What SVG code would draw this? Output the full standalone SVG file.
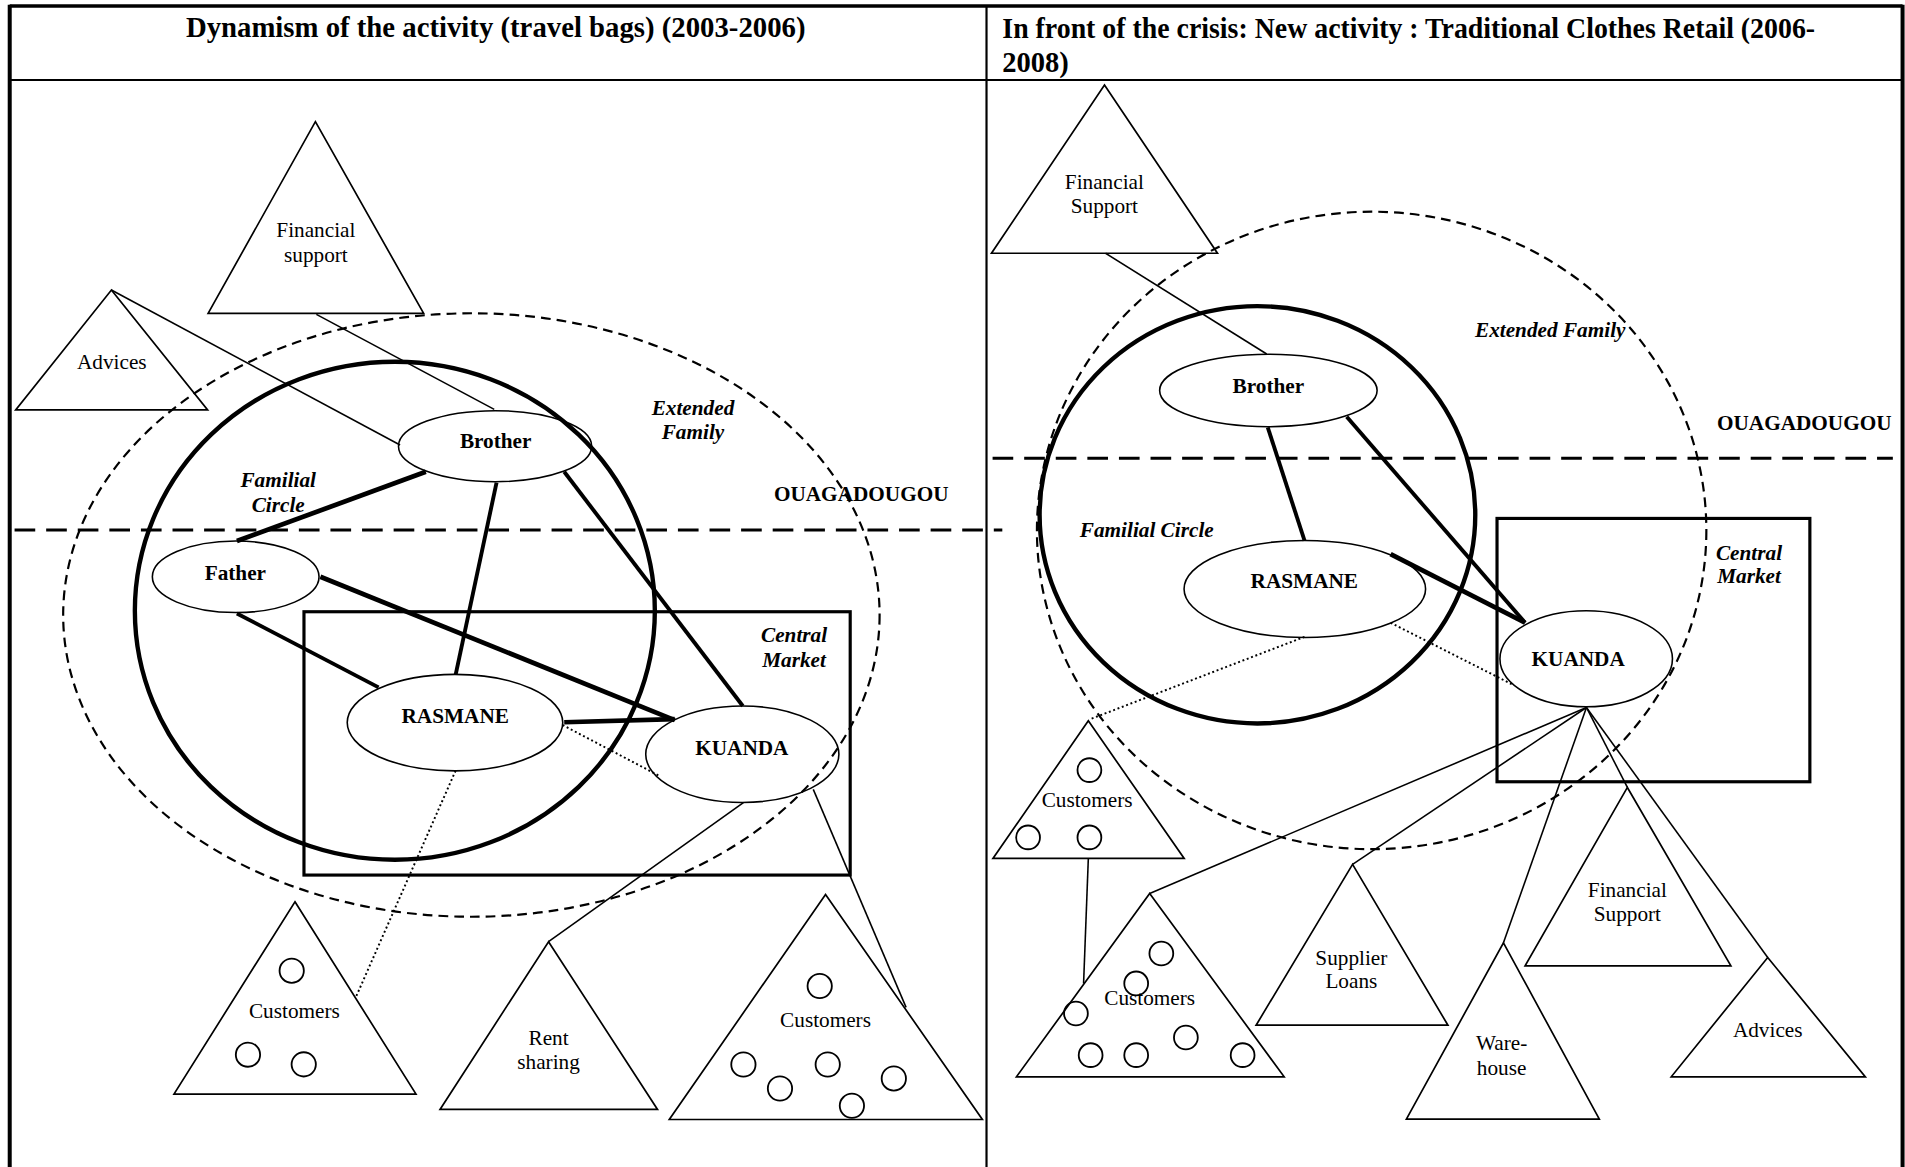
<svg xmlns="http://www.w3.org/2000/svg" width="1905" height="1167" viewBox="0 0 1905 1167">
<style>
.t{font-family:"Liberation Serif","Times New Roman",serif;font-size:17.5px;fill:#000;text-anchor:middle}
.s{text-anchor:start}
.h{font-size:23.5px;font-weight:bold}
.b{font-weight:bold}
.bi{font-weight:bold;font-style:italic}
.thin{fill:none;stroke:#000;stroke-width:1.3}
.tri{fill:none;stroke:#000;stroke-width:1.4;stroke-linejoin:miter}
.node{fill:none;stroke:#000;stroke-width:1.3}
.circ{fill:none;stroke:#000;stroke-width:1.5}
.fam{fill:none;stroke:#000;stroke-width:3.6}
.ext{fill:none;stroke:#000;stroke-width:1.8;stroke-dasharray:8 5}
.city{fill:none;stroke:#000;stroke-width:2.5;stroke-dasharray:17 9}
.dot{fill:none;stroke:#000;stroke-width:1.6;stroke-dasharray:1.6 2.2}
.k3{stroke:#000;stroke-width:3.2;fill:none}
.k4{stroke:#000;stroke-width:3.9;fill:none}
.mk{fill:none;stroke:#000;stroke-width:2.6}
.frame{stroke:#000;fill:none}
</style>
<rect width="1905" height="1167" fill="#fff"/>
<g transform="scale(1.21492 1.21184)">
  <g id="frame">
    <line class="frame" x1="8" y1="5" x2="1566" y2="5" stroke-width="2.8"/>
    <line class="frame" x1="8" y1="4" x2="8" y2="970" stroke-width="3.3"/>
    <line class="frame" x1="1566" y1="4" x2="1566" y2="970" stroke-width="3.3"/>
    <line class="frame" x1="812" y1="5" x2="812" y2="970" stroke-width="1.8"/>
    <line class="frame" x1="8" y1="66" x2="1566" y2="66" stroke-width="1.8"/>
    <text class="t h" x="408" y="30.8" textLength="510" lengthAdjust="spacingAndGlyphs">Dynamism of the activity (travel bags) (2003-2006)</text>
    <text class="t h s" x="825" y="31" textLength="669" lengthAdjust="spacingAndGlyphs">In front of the crisis: New activity : Traditional Clothes Retail (2006-</text>
    <text class="t h s" x="825" y="59.1">2008)</text>
  </g>

  <!-- LEFT PANEL -->
  <g id="left-zones">
    <ellipse class="ext" cx="388" cy="507.5" rx="336" ry="249"/>
    <ellipse class="fam" cx="325" cy="504" rx="214" ry="205.5"/>
    <rect class="mk" x="250.2" y="504.8" width="449.6" height="217.3"/>
    <line class="city" x1="12" y1="437.4" x2="825" y2="437.4"/>
    <text class="t bi" x="570.4" y="342.5">Extended</text>
    <text class="t bi" x="570.4" y="362.6">Family</text>
    <text class="t bi" x="229" y="402.2">Familial</text>
    <text class="t bi" x="229" y="422.3">Circle</text>
    <text class="t bi" x="653.6" y="529.5">Central</text>
    <text class="t bi" x="653.6" y="550.2">Market</text>
    <text class="t b s" x="637" y="413.2">OUAGADOUGOU</text>
  </g>

  <g id="left-connectors">
    <line class="thin" x1="91.7" y1="239.3" x2="329.3" y2="367.2"/>
    <line class="thin" x1="260.4" y1="259.4" x2="406.8" y2="337.8"/>
    <line class="k4" x1="350.5" y1="389.3" x2="195" y2="446.5"/>
    <line class="k3" x1="408.7" y1="398.3" x2="375.1" y2="556.5"/>
    <line class="k3" x1="464.4" y1="389.3" x2="611.4" y2="582.6"/>
    <line class="k4" x1="263.7" y1="475.9" x2="555.3" y2="594.2"/>
    <line class="k3" x1="195" y1="506.2" x2="311.6" y2="567.2"/>
    <line class="k4" x1="464.4" y1="596" x2="555.3" y2="593.4"/>
    <line class="dot" x1="463.1" y1="598.3" x2="543" y2="640.4"/>
    <line class="dot" x1="375" y1="636" x2="292.8" y2="823.1"/>
    <line class="thin" x1="611.9" y1="662.4" x2="451.5" y2="777.1"/>
    <line class="thin" x1="669.4" y1="651.4" x2="745.8" y2="831.3"/>
  </g>

  <g id="L-financial-support">
    <polygon class="tri" points="259.6,100.4 348.7,258.6 171.3,258.6"/>
    <text class="t" x="260" y="195.8">Financial</text>
    <text class="t" x="260" y="216">support</text>
  </g>
  <g id="L-advices">
    <polygon class="tri" points="91.7,239.3 170.9,338.3 12.9,338.3"/>
    <text class="t" x="92" y="304.8">Advices</text>
  </g>
  <g id="L-brother">
    <ellipse class="node" cx="407.5" cy="368.2" rx="79.5" ry="29.3"/>
    <text class="t b" x="408" y="370">Brother</text>
  </g>
  <g id="L-father">
    <ellipse class="node" cx="194" cy="476" rx="68.6" ry="29.5"/>
    <text class="t b" x="193.7" y="478.7">Father</text>
  </g>
  <g id="L-rasmane">
    <ellipse class="node" cx="374.5" cy="596.3" rx="88.7" ry="39.8"/>
    <text class="t b" x="374.7" y="596.4">RASMANE</text>
  </g>
  <g id="L-kuanda">
    <ellipse class="node" cx="611" cy="622.4" rx="79.5" ry="39.8"/>
    <text class="t b" x="610.6" y="623.1">KUANDA</text>
  </g>
  <g id="L-customers-1">
    <polygon class="tri" points="242.8,744.1 342.4,902.8 143.2,902.8"/>
    <circle class="circ" cx="240.1" cy="801" r="10"/>
    <circle class="circ" cx="204.1" cy="870.3" r="10"/>
    <circle class="circ" cx="250" cy="878.3" r="10"/>
    <text class="t" x="242.3" y="840.3">Customers</text>
  </g>
  <g id="L-rent-sharing">
    <polygon class="tri" points="451.5,777.1 541.2,915.5 362.2,915.5"/>
    <text class="t" x="451.5" y="862.4">Rent</text>
    <text class="t" x="451.5" y="882.5">sharing</text>
  </g>
  <g id="L-customers-2">
    <polygon class="tri" points="679.5,738.1 808.6,923.8 550.9,923.8"/>
    <circle class="circ" cx="674.7" cy="813.7" r="10"/>
    <circle class="circ" cx="611.9" cy="878.4" r="10"/>
    <circle class="circ" cx="642" cy="898.2" r="10"/>
    <circle class="circ" cx="681.3" cy="878.4" r="10"/>
    <circle class="circ" cx="735.7" cy="889.9" r="10"/>
    <circle class="circ" cx="701.2" cy="912.5" r="10"/>
    <text class="t" x="679.5" y="847.3">Customers</text>
  </g>

  <!-- RIGHT PANEL -->
  <g id="right-zones">
    <ellipse class="ext" cx="1129" cy="437.7" rx="275.5" ry="263"/>
    <ellipse class="fam" cx="1035" cy="424.8" rx="179.3" ry="172.2"/>
    <rect class="mk" x="1232.2" y="427.8" width="257.5" height="217.3"/>
    <line class="city" x1="817" y1="378.2" x2="1558" y2="378.2"/>
    <text class="t bi" x="1276" y="278.5">Extended Family</text>
    <text class="t bi" x="943.9" y="442.9">Familial Circle</text>
    <text class="t bi" x="1439.6" y="462.2">Central</text>
    <text class="t bi" x="1439.6" y="481.4">Market</text>
    <text class="t b s" x="1413.2" y="354.9">OUAGADOUGOU</text>
  </g>

  <g id="right-connectors">
    <line class="thin" x1="910" y1="209" x2="1042.6" y2="292.1"/>
    <line class="k3" x1="1043.5" y1="352.7" x2="1073.8" y2="446.2"/>
    <line class="k3" x1="1108.5" y1="343.9" x2="1255.3" y2="513.9"/>
    <line class="k4" x1="1144.6" y1="457.2" x2="1255.3" y2="513.9"/>
    <line class="dot" x1="1144.6" y1="513.9" x2="1245.7" y2="565.3"/>
    <line class="dot" x1="1073.8" y1="525.5" x2="896.7" y2="593.7"/>
    <line class="thin" x1="895.8" y1="708.4" x2="891.9" y2="811.5"/>
    <line class="thin" x1="1305.8" y1="583.8" x2="946.3" y2="737.3"/>
    <line class="thin" x1="1305.8" y1="583.8" x2="1113.3" y2="713.3"/>
    <line class="thin" x1="1305.8" y1="583.8" x2="1237.5" y2="778"/>
    <line class="thin" x1="1305.8" y1="583.8" x2="1339.5" y2="649.8"/>
    <line class="thin" x1="1305.8" y1="583.8" x2="1455" y2="790.1"/>
  </g>

  <g id="R-financial-support-top">
    <polygon class="tri" points="909.1,70.1 1002.1,209 816.1,209"/>
    <text class="t" x="909" y="156">Financial</text>
    <text class="t" x="909" y="176">Support</text>
  </g>
  <g id="R-brother">
    <ellipse class="node" cx="1044" cy="322.2" rx="89.5" ry="29.9"/>
    <text class="t b" x="1044" y="324.1">Brother</text>
  </g>
  <g id="R-rasmane">
    <ellipse class="node" cx="1074" cy="486" rx="99.4" ry="40"/>
    <text class="t b" x="1073.6" y="485.6">RASMANE</text>
  </g>
  <g id="R-kuanda">
    <ellipse class="node" cx="1305.6" cy="543.6" rx="71" ry="39.6"/>
    <text class="t b" x="1299" y="549.4">KUANDA</text>
  </g>
  <g id="R-customers-1">
    <polygon class="tri" points="895.8,594.8 974.7,708.4 817.3,708.4"/>
    <circle class="circ" cx="896.7" cy="635.5" r="9.8"/>
    <circle class="circ" cx="846.2" cy="691" r="9.8"/>
    <circle class="circ" cx="896.7" cy="691" r="9.8"/>
    <text class="t" x="894.8" y="666.3">Customers</text>
  </g>
  <g id="R-customers-2">
    <polygon class="tri" points="946.3,737.3 1057,888.6 836.6,888.6"/>
    <circle class="circ" cx="955.9" cy="786.8" r="9.8"/>
    <circle class="circ" cx="935.2" cy="811.5" r="9.8"/>
    <circle class="circ" cx="885.6" cy="836.3" r="9.8"/>
    <circle class="circ" cx="976.1" cy="856.1" r="9.8"/>
    <circle class="circ" cx="897.7" cy="870.7" r="9.8"/>
    <circle class="circ" cx="935.2" cy="870.7" r="9.8"/>
    <circle class="circ" cx="1022.8" cy="870.7" r="9.8"/>
    <text class="t" x="946.3" y="829.4">Customers</text>
  </g>
  <g id="R-supplier-loans">
    <polygon class="tri" points="1113.3,713.3 1191.8,846 1033.9,846"/>
    <text class="t" x="1112.3" y="796.4">Supplier</text>
    <text class="t" x="1112.3" y="815.7">Loans</text>
  </g>
  <g id="R-warehouse">
    <polygon class="tri" points="1237.5,778 1316.4,923.5 1157.6,923.5"/>
    <text class="t" x="1236" y="866.6">Ware-</text>
    <text class="t" x="1236" y="887.2">house</text>
  </g>
  <g id="R-financial-support">
    <polygon class="tri" points="1339.5,649.8 1424.7,797 1255.3,797"/>
    <text class="t" x="1339.5" y="740">Financial</text>
    <text class="t" x="1339.5" y="759.8">Support</text>
  </g>
  <g id="R-advices">
    <polygon class="tri" points="1455,790.1 1535.4,888.6 1375.6,888.6"/>
    <text class="t" x="1455" y="855.5">Advices</text>
  </g>
</g>
</svg>
